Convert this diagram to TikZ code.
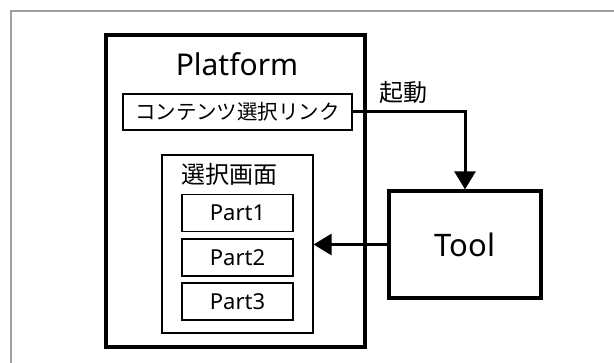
\documentclass[tikz,border=0pt]{standalone}
\usepackage{fontspec}
\setmainfont{Noto Sans}
\newfontfamily\jpfont{Noto Sans CJK JP}
\usetikzlibrary{arrows.meta}

\begin{document}
\begin{tikzpicture}[x=1pt,y=-1pt,
    bigbox/.style={draw, line width=3.3pt, inner sep=0pt},
    smallbox/.style={draw, line width=1.2pt, inner sep=0pt},
    partbox/.style={smallbox, minimum width=111pt, minimum height=37pt,
        font=\fontsize{22}{26}\selectfont},
    flow/.style={-{Triangle[length=18pt,width=21pt]}, line width=3pt}]
    \useasboundingbox (0,0) rectangle (614,363);
    % 外枠
    \draw[gray!75, line width=2pt] (11,363) -- (11,11) -- (614,11);
    % Platform
    \node[bigbox, minimum width=259pt, minimum height=312pt] (platform) at (235.5,191) {};
    \node[font=\fontsize{30}{36}\selectfont] (ptitle) at (237,64) {Platform};
    % コンテンツ選択リンク
    \node[smallbox, minimum width=229pt, minimum height=36pt,
        font=\jpfont\fontsize{20.5}{24}\selectfont] (link) at (237.5,112) {コンテンツ選択リンク};
    % 選択画面
    \node[smallbox, minimum width=151pt, minimum height=178pt] (screen) at (237.5,244) {};
    \node[font=\jpfont\fontsize{24}{28}\selectfont] (stitle) at (229,174) {選択画面};
    \node[partbox] (part1) at (237.5,213) {Part1};
    \node[partbox] (part2) at (237.5,257.5) {Part2};
    \node[partbox] (part3) at (237.5,301.5) {Part3};
    % Tool
    \node[bigbox, minimum width=152pt, minimum height=107pt,
        font=\fontsize{31}{36}\selectfont] (tool) at (465,244.5) {Tool};
    % 起動の矢印
    \draw[flow] (link.east) -| (tool.north);
    \node[font=\jpfont\fontsize{24}{28}\selectfont] (boot) at (403,92) {起動};
    % 戻りの矢印
    \draw[flow] (tool.west) -- (tool.west -| screen.east);
\end{tikzpicture}
\end{document}
